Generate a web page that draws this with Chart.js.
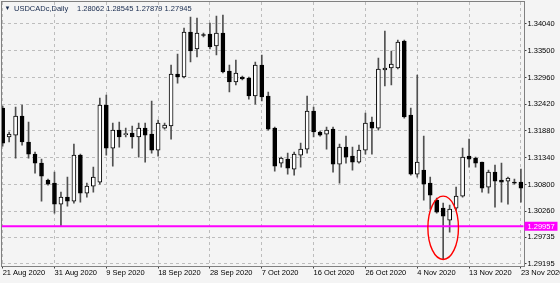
<!DOCTYPE html>
<html>
<head>
<meta charset="utf-8">
<script src="https://cdn.jsdelivr.net/npm/chart.js@4.4.0/dist/chart.umd.min.js"></script>
<style>
  html, body { margin: 0; padding: 0; background: #f4f4f4; }
  canvas { display: block; }
</style>
</head>
<body>
<canvas id="c" width="560" height="283"></canvas>
<script>
// USDCADc daily candles, 21 Aug 2020 .. 23 Nov 2020 (broker has Sunday bars)
const symbolTitle = "USDCADc,Daily";
const lastQuote = "1.28062 1.28545 1.27879 1.27945";
const dateLabels = ["21 Aug 2020", "31 Aug 2020", "9 Sep 2020", "18 Sep 2020", "28 Sep 2020", "7 Oct 2020",
  "16 Oct 2020", "26 Oct 2020", "4 Nov 2020", "13 Nov 2020", "23 Nov 2020"];
const labelIndex = [0, 8, 16, 24, 32, 40, 48, 56, 64, 72, 80];
const priceTicks = [1.34040, 1.33500, 1.32960, 1.32420, 1.31880, 1.31340, 1.30800, 1.30260, 1.29735, 1.29195];
const level = 1.29957;

const open = [1.32343, 1.31758, 1.31798, 1.32182, 1.31657, 1.31414, 1.31232, 1.30889, 1.30828, 1.30404,
  1.30546, 1.30465, 1.31394, 1.30626, 1.30768, 1.30849, 1.32404, 1.31535, 1.31899, 1.31808,
  1.31838, 1.31758, 1.31939, 1.31818, 1.31495, 1.31939, 1.31980, 1.33030, 1.32970, 1.33879,
  1.33535, 1.33818, 1.33838, 1.33596, 1.33858, 1.33091, 1.32869, 1.32970, 1.32949, 1.32586,
  1.33212, 1.32586, 1.31939, 1.31232, 1.31313, 1.31111, 1.31394, 1.31515, 1.32283, 1.31859,
  1.31818, 1.31919, 1.31212, 1.31556, 1.31374, 1.31253, 1.31495, 1.32061, 1.31939, 1.33111,
  1.33151, 1.33151, 1.33697, 1.32202, 1.31010, 1.31091, 1.30828, 1.30485, 1.30323, 1.30081,
  1.30323, 1.30566, 1.31374, 1.31333, 1.31253, 1.30748, 1.31051, 1.30889, 1.30869, 1.30849,
  1.30849];
const high = [1.32384, 1.31859, 1.32364, 1.32404, 1.32061, 1.31455, 1.31313, 1.30909, 1.31051, 1.30647,
  1.30950, 1.31616, 1.31414, 1.30828, 1.31152, 1.32545, 1.32606, 1.32040, 1.32061, 1.31939,
  1.31980, 1.32040, 1.32040, 1.32485, 1.32101, 1.32040, 1.33212, 1.33434, 1.33959, 1.34182,
  1.34161, 1.33858, 1.34060, 1.34202, 1.34222, 1.33212, 1.33313, 1.32990, 1.32970, 1.33273,
  1.33414, 1.32667, 1.31960, 1.31354, 1.31434, 1.31455, 1.31636, 1.32586, 1.32364, 1.31879,
  1.31960, 1.31960, 1.31616, 1.31778, 1.31556, 1.31596, 1.32242, 1.32162, 1.33353, 1.33899,
  1.33495, 1.33717, 1.33717, 1.32343, 1.33010, 1.31778, 1.30950, 1.30525, 1.30424, 1.30384,
  1.30748, 1.31535, 1.31717, 1.31354, 1.31253, 1.31091, 1.31192, 1.31232, 1.30950, 1.30909,
  1.31111];
const low = [1.31576, 1.31657, 1.31333, 1.31596, 1.31333, 1.31030, 1.30465, 1.30788, 1.30222, 1.29960,
  1.30364, 1.30424, 1.30445, 1.30546, 1.30647, 1.30808, 1.31394, 1.31172, 1.31556, 1.31758,
  1.31535, 1.31354, 1.31253, 1.31434, 1.31374, 1.31919, 1.31717, 1.32848, 1.32949, 1.33273,
  1.33374, 1.33778, 1.33535, 1.33414, 1.33050, 1.32667, 1.32808, 1.32909, 1.32525, 1.32424,
  1.32485, 1.31899, 1.31071, 1.31152, 1.31010, 1.30990, 1.31152, 1.31434, 1.31758, 1.31778,
  1.31515, 1.31051, 1.30828, 1.31232, 1.31091, 1.31232, 1.31414, 1.31414, 1.31899, 1.32788,
  1.32808, 1.33131, 1.32141, 1.30990, 1.30950, 1.30485, 1.30303, 1.30222, 1.29293, 1.29839,
  1.30283, 1.30546, 1.31152, 1.31152, 1.30647, 1.30626, 1.30344, 1.30445, 1.30404, 1.30808,
  1.30445];
const close = [1.31636, 1.31818, 1.32182, 1.31657, 1.31414, 1.31232, 1.30970, 1.30808, 1.30404, 1.30546,
  1.30465, 1.31394, 1.30626, 1.30768, 1.30950, 1.32404, 1.31535, 1.31899, 1.31758, 1.31818,
  1.31758, 1.31939, 1.31798, 1.31495, 1.32040, 1.32000, 1.33030, 1.32970, 1.33879, 1.33495,
  1.33858, 1.33808, 1.33576, 1.33858, 1.33071, 1.32869, 1.33050, 1.32929, 1.32586, 1.33212,
  1.32566, 1.31919, 1.31172, 1.31333, 1.31131, 1.31414, 1.31515, 1.32283, 1.31859, 1.31798,
  1.31899, 1.31212, 1.31556, 1.31354, 1.31253, 1.31495, 1.32040, 1.31939, 1.33131, 1.33151,
  1.33232, 1.33677, 1.32162, 1.31010, 1.31253, 1.30808, 1.30586, 1.30243, 1.30162, 1.30303,
  1.30566, 1.31354, 1.31313, 1.31232, 1.30727, 1.31051, 1.30869, 1.30849, 1.30929, 1.30828,
  1.30727];

// red ring drawn round the 9 Nov spike
const ring = { index: 68, halfWidth: 2.36, top: 1.30566, bottom: 1.29287 };

const Y_MIN = 1.291647, Y_MAX = 1.344841;
const GRID = "#bdbdbd", TICK = "#404040";
const FONT = "'Liberation Sans', Arial, sans-serif";

const bodies = open.map((o, i) => ({ x: i, y: [Math.min(o, close[i]), Math.max(o, close[i])] }));
const wicks = low.map((l, i) => ({ x: i, y: [l, high[i]] }));
const bodyFill = open.map((o, i) => close[i] >= o ? "#ffffff" : "#000000");

const mt4Look = {
  id: "mt4Look",
  beforeDraw(chart) {
    const { ctx, width, height } = chart;
    ctx.save();
    ctx.fillStyle = "#f4f4f4";
    ctx.fillRect(0, 0, width, height);
    ctx.restore();
  },
  afterDatasetsDraw(chart) {
    const { ctx, chartArea: a, scales: { x, y } } = chart;
    ctx.save();
    const ly = y.getPixelForValue(level);
    ctx.strokeStyle = "#ff00ff"; ctx.lineWidth = 2;
    ctx.beginPath(); ctx.moveTo(a.left, ly); ctx.lineTo(a.right, ly); ctx.stroke();

    const cx = x.getPixelForValue(ring.index);
    const rx = x.getPixelForValue(ring.index + ring.halfWidth) - cx;
    const yt = y.getPixelForValue(ring.top), yb = y.getPixelForValue(ring.bottom);
    ctx.strokeStyle = "#ff0000"; ctx.lineWidth = 1.4;
    ctx.beginPath(); ctx.ellipse(cx, (yt + yb) / 2, rx, (yb - yt) / 2, 0, 0, Math.PI * 2); ctx.stroke();
    ctx.restore();
  },
  afterDraw(chart) {
    const { ctx, chartArea: a, scales: { y } } = chart;
    ctx.save();
    // frame
    ctx.strokeStyle = "#808080"; ctx.lineWidth = 1;
    ctx.strokeRect(Math.round(a.left) - 0.5, Math.round(a.top) - 0.5,
      Math.round(a.right - a.left) + 1, Math.round(a.bottom - a.top) + 1);
    // price tag of the level
    const ly = y.getPixelForValue(level);
    ctx.fillStyle = "#ff00ff";
    ctx.fillRect(a.right + 1, ly - 4.5, 33, 9);
    ctx.fillStyle = "#ffffff";
    ctx.font = "7.5px " + FONT;
    ctx.textBaseline = "middle";
    ctx.fillText(level.toFixed(5), a.right + 4, ly + 0.5);
    // header
    ctx.fillStyle = "#16294d";
    ctx.font = "6px " + FONT;
    ctx.fillText("\u25BC", 4.5, 8.5);
    ctx.font = "7.5px " + FONT;
    ctx.fillText(symbolTitle, 14, 8.5);
    ctx.fillText(lastQuote, 77, 8.5);
    ctx.restore();
  }
};

Chart.defaults.font.family = FONT;
Chart.defaults.font.size = 7.5;
Chart.defaults.color = "#000";

new Chart(document.getElementById("c"), {
  type: "bar",
  data: {
    datasets: [
      { label: "body", data: bodies, backgroundColor: bodyFill, borderColor: "#000000", borderWidth: 1,
        borderSkipped: false, barThickness: 4, minBarLength: 1, grouped: false },
      { label: "wick", data: wicks, backgroundColor: "#505050", borderWidth: 0,
        barThickness: 1, grouped: false }
    ]
  },
  options: {
    responsive: false,
    animation: false,
    devicePixelRatio: 1,
    layout: { padding: { left: 2, top: 2, right: 0, bottom: 0 } },
    plugins: { legend: { display: false }, tooltip: { enabled: false } },
    scales: {
      x: {
        type: "linear", min: -0.1, max: 80.4, offset: false,
        afterBuildTicks: s => { s.ticks = labelIndex.map(v => ({ value: v })); },
        afterFit: s => { s.height = 17.5; s.paddingLeft = 0; s.paddingRight = 0; },
        grid: { offset: false, color: GRID, tickColor: TICK, tickLength: 3 },
        border: { display: false, dash: [3, 3] },
        ticks: { autoSkip: false, maxRotation: 0, align: "start", padding: 0,
          callback: (v, i) => dateLabels[i] }
      },
      y: {
        position: "right", min: Y_MIN, max: Y_MAX,
        afterBuildTicks: s => { s.ticks = priceTicks.map(v => ({ value: v })); },
        afterFit: s => { s.width = 36.5; s.paddingTop = 0; s.paddingBottom = 0; },
        grid: { color: GRID, tickColor: TICK, tickLength: 3 },
        border: { display: false, dash: [3, 3] },
        ticks: { padding: 1, callback: v => v.toFixed(5) }
      }
    }
  },
  plugins: [mt4Look]
});
</script>
</body>
</html>
